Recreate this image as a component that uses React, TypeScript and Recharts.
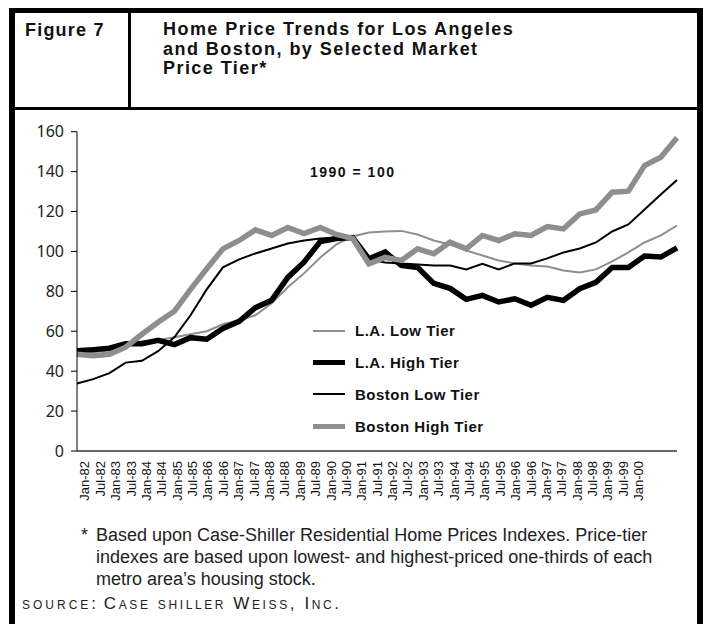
import React from "react";
import { LineChart, Line, XAxis, YAxis, Legend } from "recharts";

// Semiannual periods plotted (Jan-82 .. Jul-00)
const PERIODS = [
  "Jan-82", "Jul-82", "Jan-83", "Jul-83", "Jan-84", "Jul-84", "Jan-85", "Jul-85",
  "Jan-86", "Jul-86", "Jan-87", "Jul-87", "Jan-88", "Jul-88", "Jan-89", "Jul-89",
  "Jan-90", "Jul-90", "Jan-91", "Jul-91", "Jan-92", "Jul-92", "Jan-93", "Jul-93",
  "Jan-94", "Jul-94", "Jan-95", "Jul-95", "Jan-96", "Jul-96", "Jan-97", "Jul-97",
  "Jan-98", "Jul-98", "Jan-99", "Jul-99", "Jan-00", "Jul-00",
];

// Category axis slots; the last two are not printed in the original
const AXIS_CATEGORIES = [
  "Jan-82", "Jul-82", "Jan-83", "Jul-83", "Jan-84", "Jul-84", "Jan-85", "Jul-85",
  "Jan-86", "Jul-86", "Jan-87", "Jul-87", "Jan-88", "Jul-88", "Jan-89", "Jul-89",
  "Jan-90", "Jul-90", "Jan-91", "Jul-91", "Jan-92", "Jul-92", "Jan-93", "Jul-93",
  "Jan-94", "Jul-94", "Jan-95", "Jul-95", "Jan-96", "Jul-96", "Jan-97", "Jul-97",
  "Jan-98", "Jul-98", "Jan-99", "Jul-99", "Jan-00", "Jul-00", "Jan-01",
];
const HIDDEN_LABELS = ["Jul-00", "Jan-01"];

const Y_TICKS = [0, 20, 40, 60, 80, 100, 120, 140, 160];

const LA_LOW = [
  49, 49.5, 50.5, 53, 55, 55.5, 57, 58.5, 60, 63.5, 65.5, 68, 74, 82, 89, 97,
  103.5, 107.5, 109.5, 110, 110.3, 108.5, 105.5, 103.5, 100.5, 98, 95.5, 94, 93,
  92.5, 90.5, 89.5, 91, 95, 99.5, 104.5, 108, 113,
];
const LA_HIGH = [
  50.2, 50.8, 51.5, 53.8, 53.8, 55.5, 53.3, 56.8, 56, 61.4, 65, 71.8, 75.5, 87,
  94.6, 105, 106.5, 107, 96.3, 99.7, 93, 92, 84, 81.5, 76, 78, 74.7, 76.3, 73, 77,
  75.5, 81.3, 84.5, 92, 92, 97.7, 97.2, 101.8,
];
const BOSTON_LOW = [
  33.8, 36, 39, 44.3, 45.2, 50, 57, 68, 81, 92, 96, 99, 101.5, 104, 105.5, 106.5,
  107, 106.8, 96, 94.5, 94, 93.5, 93, 93, 91, 93.8, 91, 94, 94, 96.5, 99.5, 101.5,
  104.5, 110, 113.5, 121, 128.5, 135.8,
];
const BOSTON_HIGH = [
  48.5, 47.7, 48.5, 52, 58.5, 64.5, 70, 81, 91.3, 101.3, 105.5, 110.8, 108, 112,
  109, 112, 108.5, 106.5, 93.8, 97, 95.5, 101.3, 98.8, 104.7, 101.3, 108, 105.5,
  108.8, 108, 112.5, 111.3, 118.8, 120.8, 129.7, 130.2, 143, 147.2, 157,
];

const SERIES = [
  { key: "laLow", name: "L.A. Low Tier", color: "#8e8e8e", width: 2, values: LA_LOW },
  { key: "laHigh", name: "L.A. High Tier", color: "#000000", width: 5.5, values: LA_HIGH },
  { key: "bosLow", name: "Boston Low Tier", color: "#000000", width: 2, values: BOSTON_LOW },
  { key: "bosHigh", name: "Boston High Tier", color: "#8e8e8e", width: 5.5, values: BOSTON_HIGH },
];

const seriesRows = PERIODS.map((p, i) => {
  const row: Record<string, any> = { t: i, period: p };
  SERIES.forEach((s) => {
    row[s.key] = s.values[i];
  });
  return row;
});
const labelRows = AXIS_CATEGORIES.map((c) => ({ label: c }));

const SANS = "'Liberation Sans', Arial, Helvetica, sans-serif";

const XTick = (props: any) => {
  const { x, y, payload } = props;
  if (HIDDEN_LABELS.includes(payload.value)) return null;
  return (
    <text
      x={x}
      y={y}
      transform={`rotate(-90 ${x} ${y})`}
      textAnchor="end"
      dy="0.36em"
      fontFamily={SANS}
      fontSize={13}
      fill="#111"
    >
      {payload.value}
    </text>
  );
};

const LegendContent = (props: any) => {
  const payload: any[] = props.payload || [];
  const ordered = SERIES.map((s) => ({
    s,
    p: payload.find((p: any) => p.dataKey === s.key),
  })).filter((e) => e.p);
  return (
    <div style={{ fontFamily: SANS }}>
      {ordered.map(({ s, p }) => (
        <div key={s.key} style={{ display: "flex", alignItems: "center", height: 31.8 }}>
          <div style={{ width: 32, height: s.width, background: p.color || s.color, marginRight: 10 }} />
          <span
            style={{
              fontSize: 15,
              fontWeight: "bold",
              letterSpacing: 0.5,
              color: "#111",
              whiteSpace: "nowrap",
            }}
          >
            {p.value}
          </span>
        </div>
      ))}
    </div>
  );
};

export default function App() {
  return (
    <div
      style={{
        position: "relative",
        width: 706,
        height: 624,
        overflow: "hidden",
        background: "#fff",
        fontFamily: SANS,
      }}
    >
      <style>{`html,body{margin:0;padding:0;overflow:hidden;background:#fff}`}</style>
      {/* frame */}
      <div
        style={{
          position: "absolute",
          left: 9,
          top: 8,
          width: 694,
          height: 700,
          boxSizing: "border-box",
          borderLeft: "6px solid #000",
          borderRight: "6px solid #000",
          borderTop: "5px solid #000",
        }}
      />
      {/* header separator */}
      <div style={{ position: "absolute", left: 15, top: 107, width: 682, height: 3, background: "#000" }} />
      {/* header divider */}
      <div style={{ position: "absolute", left: 128, top: 13, width: 3, height: 94, background: "#000" }} />
      <div
        style={{
          position: "absolute",
          left: 25,
          top: 20,
          fontSize: 18,
          lineHeight: "20px",
          fontWeight: "bold",
          letterSpacing: 1.2,
          color: "#111",
          whiteSpace: "nowrap",
        }}
      >
        Figure 7
      </div>
      <div
        style={{
          position: "absolute",
          left: 163,
          top: 20,
          fontSize: 18,
          lineHeight: "19.5px",
          fontWeight: "bold",
          letterSpacing: 1.45,
          color: "#111",
          whiteSpace: "nowrap",
        }}
      >
        Home Price Trends for Los Angeles
        <br />
        and Boston, by Selected Market
        <br />
        Price Tier*
      </div>

      <div style={{ position: "absolute", left: 0, top: 0 }}>
        <LineChart
          width={706}
          height={560}
          data={labelRows}
          margin={{ top: 131.7, right: 29, bottom: 49, left: 17 }}
        >
          <XAxis
            xAxisId="num"
            type="number"
            dataKey="t"
            domain={[0, PERIODS.length - 1]}
            hide
          />
          <XAxis
            xAxisId="lab"
            type="category"
            dataKey="label"
            scale="band"
            interval={0}
            height={60}
            tickLine={false}
            tickSize={0}
            tickMargin={10}
            axisLine={{ stroke: "#333", strokeWidth: 1.5 }}
            tick={<XTick />}
          />
          <YAxis
            type="number"
            domain={[0, 160]}
            ticks={Y_TICKS}
            interval={0}
            width={60}
            tickSize={6}
            tickMargin={7}
            axisLine={{ stroke: "#000", strokeWidth: 1 }}
            tickLine={{ stroke: "#000", strokeWidth: 1 }}
            tick={{ fontFamily: "'Noto Sans', sans-serif", fontSize: 16, fill: "#222" }}
          />
          {SERIES.map((s) => (
            <Line
              key={s.key}
              xAxisId="num"
              data={seriesRows}
              dataKey={s.key}
              name={s.name}
              type="linear"
              stroke={s.color}
              strokeWidth={s.width}
              dot={false}
              activeDot={false}
              isAnimationActive={false}
            />
          ))}
          <Legend
            layout="vertical"
            align="center"
            verticalAlign="middle"
            content={<LegendContent />}
            wrapperStyle={{ position: "absolute", left: 313, top: 315, width: 220 }}
          />
        </LineChart>
      </div>

      <div
        style={{
          position: "absolute",
          left: 310,
          top: 165,
          fontSize: 14,
          lineHeight: "14px",
          fontWeight: "bold",
          letterSpacing: 1.5,
          color: "#111",
          whiteSpace: "nowrap",
        }}
      >
        1990 = 100
      </div>

      {/* footnote */}
      <div
        style={{
          position: "absolute",
          left: 81,
          top: 524,
          fontSize: 18,
          lineHeight: "22px",
          color: "#222",
          whiteSpace: "nowrap",
        }}
      >
        *
      </div>
      <div
        style={{
          position: "absolute",
          left: 96,
          top: 524,
          fontSize: 18,
          lineHeight: "22px",
          color: "#222",
          whiteSpace: "nowrap",
        }}
      >
        Based upon Case-Shiller Residential Home Prices Indexes. Price-tier
        <br />
        indexes are based upon lowest- and highest-priced one-thirds of each
        <br />
        metro area’s housing stock.
      </div>
      <div
        style={{
          position: "absolute",
          left: 22,
          top: 594,
          fontSize: 17,
          lineHeight: "20px",
          fontVariant: "small-caps",
          color: "#222",
          whiteSpace: "nowrap",
        }}
      >
        <span style={{ letterSpacing: 3 }}>source:</span>{" "}
        <span style={{ letterSpacing: 2.6 }}>Case shiller Weiss, Inc.</span>
      </div>
    </div>
  );
}
